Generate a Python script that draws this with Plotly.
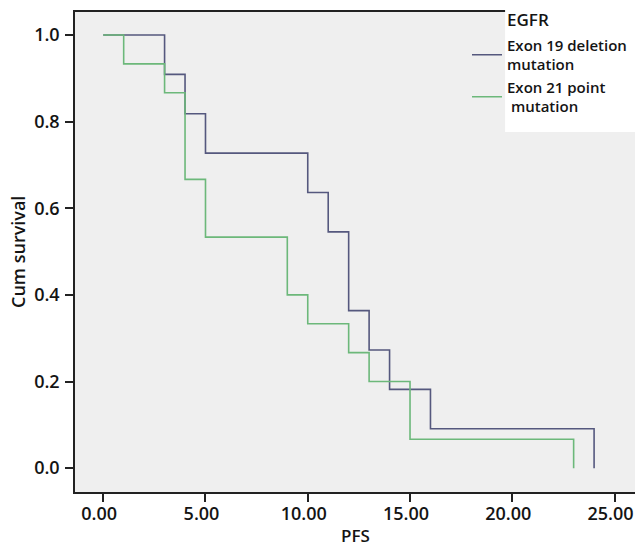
import plotly.graph_objects as go

# Kaplan-Meier step data (PFS in months, cumulative survival)
exon19_time = [0, 3, 4, 5, 10, 11, 12, 13, 14, 16, 24]
exon19_surv = [1.0, 10/11, 9/11, 8/11, 7/11, 6/11, 4/11, 3/11, 2/11, 1/11, 0.0]

exon21_time = [0, 1, 3, 4, 5, 9, 10, 12, 13, 15, 23]
exon21_surv = [1.0, 14/15, 13/15, 10/15, 8/15, 6/15, 5/15, 4/15, 3/15, 1/15, 0.0]

series_names = ["Exon 19 deletion<br>mutation", "Exon 21 point<br> mutation"]
legend_title = "EGFR"
x_title = "PFS"
y_title = "Cum survival"
x_ticks = [0, 5, 10, 15, 20, 25]
y_ticks = [0.0, 0.2, 0.4, 0.6, 0.8, 1.0]

FONT = "Open Sans"
TXT = "#141414"
BLUE = "#55587e"
GREEN = "#6cb87a"

fig = go.Figure()
fig.add_trace(go.Scatter(x=exon19_time, y=exon19_surv, mode="lines", line_shape="hv",
                         line=dict(color=BLUE, width=1.6), name=series_names[0]))
fig.add_trace(go.Scatter(x=exon21_time, y=exon21_surv, mode="lines", line_shape="hv",
                         line=dict(color=GREEN, width=1.6), name=series_names[1]))

# white legend panel
fig.add_shape(type="rect", xref="paper", yref="paper", x0=0.768, x1=1.0, y0=0.75, y1=1.01,
              fillcolor="white", line=dict(width=0), layer="above")
fig.add_annotation(text=legend_title, xref="paper", yref="paper", x=0.767, y=1.012,
                   xanchor="left", yanchor="top", showarrow=False,
                   font=dict(family=FONT, size=17, color=TXT, weight=600))
# axis titles
fig.add_annotation(text=x_title, xref="paper", yref="paper", x=0.5, y=-0.0896,
                   xanchor="center", yanchor="middle", showarrow=False,
                   font=dict(family=FONT, size=17, color=TXT, weight=600))
fig.add_annotation(text=y_title, xref="paper", yref="paper", x=-0.1018, y=0.5,
                   xanchor="center", yanchor="middle", showarrow=False, textangle=-90,
                   font=dict(family=FONT, size=18, color=TXT, weight=600))

axis_common = dict(showline=True, linecolor="#222", linewidth=1.5, ticks="outside",
                   ticklen=8, tickwidth=1.5, tickcolor="#222", showgrid=False, zeroline=False,
                   tickfont=dict(family=FONT, size=18, color=TXT, weight=600))

fig.update_layout(
    width=635, height=548,
    margin=dict(l=75, r=0, t=12, b=56, autoexpand=False),
    paper_bgcolor="white", plot_bgcolor="#efefef",
    showlegend=True,
    legend=dict(x=0.70, y=0.965, xanchor="left", yanchor="top", bgcolor="rgba(0,0,0,0)",
                font=dict(family=FONT, size=15, color=TXT, weight=600),
                itemwidth=30),
    xaxis=dict(range=[-1.38, 26.0], tickvals=x_ticks, tickformat=".2f", mirror=True,
               ticklabelshift=-4, ticklabelstandoff=-3, **axis_common),
    yaxis=dict(range=[-0.055, 1.053], tickvals=y_ticks, tickformat=".1f", mirror=True,
               ticklabelstandoff=2, **axis_common),
)

fig.write_html("out.html", config={"displayModeBar": False},
               post_script="document.body.style.margin='0';document.body.style.overflow='hidden';")
